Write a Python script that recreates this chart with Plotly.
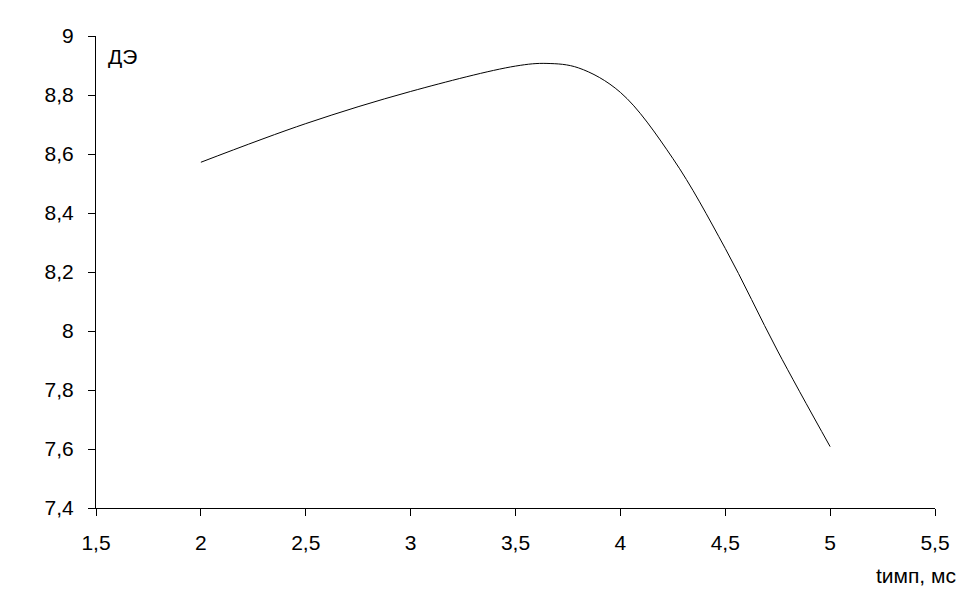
import plotly.graph_objects as go

# Data
t_imp = [2.0, 2.5, 3.0, 3.5, 3.65, 3.8, 4.0, 4.25, 4.5, 4.75, 5.0]
de_values = [8.572, 8.703, 8.812, 8.898, 8.907, 8.892, 8.809, 8.585, 8.280, 7.932, 7.608]

x_tick_vals = [1.5, 2, 2.5, 3, 3.5, 4, 4.5, 5, 5.5]
x_tick_text = ["1,5", "2", "2,5", "3", "3,5", "4", "4,5", "5", "5,5"]
y_tick_vals = [7.4, 7.6, 7.8, 8.0, 8.2, 8.4, 8.6, 8.8, 9.0]
y_tick_text = ["7,4", "7,6", "7,8", "8", "8,2", "8,4", "8,6", "8,8", "9"]

FONT = "Arial, 'Liberation Sans', sans-serif"
FS = 21

fig = go.Figure()
fig.add_trace(go.Scatter(
    x=t_imp, y=de_values, mode="lines",
    line=dict(color="black", width=1, shape="spline", smoothing=1.0),
    showlegend=False, hoverinfo="x+y",
))

# page body has an 8px default margin; size the figure to fit the 969x604 window
fig.update_layout(
    width=953, height=588,
    margin=dict(l=88, r=26, t=28, b=88, autoexpand=False),
    plot_bgcolor="white", paper_bgcolor="white",
    font=dict(family=FONT, size=FS, color="black"),
    xaxis=dict(
        range=[1.5, 5.5], tickvals=x_tick_vals, ticktext=x_tick_text,
        showline=True, linecolor="black", linewidth=1,
        ticks="outside", ticklen=7, tickcolor="black", tickwidth=1,
        showgrid=False, zeroline=False, ticklabelstandoff=9,
        automargin=False,
        tickfont=dict(family=FONT, size=FS, color="black"),
    ),
    yaxis=dict(
        range=[7.4, 9.0], tickvals=y_tick_vals, ticktext=y_tick_text,
        showline=True, linecolor="black", linewidth=1,
        ticks="outside", ticklen=7, tickcolor="black", tickwidth=1,
        showgrid=False, zeroline=False, ticklabelstandoff=10,
        automargin=False,
        tickfont=dict(family=FONT, size=FS, color="black"),
    ),
    annotations=[
        dict(text="ДЭ", x=0.012, y=0.985, xref="paper", yref="paper",
             xanchor="left", yanchor="top", showarrow=False,
             font=dict(family=FONT, size=FS, color="black")),
        dict(text="tимп, мс", x=1.0274, y=-0.144, xref="paper", yref="paper",
             xanchor="right", yanchor="middle", showarrow=False,
             font=dict(family=FONT, size=FS, color="black")),
    ],
)

fig.write_html("out.html")
